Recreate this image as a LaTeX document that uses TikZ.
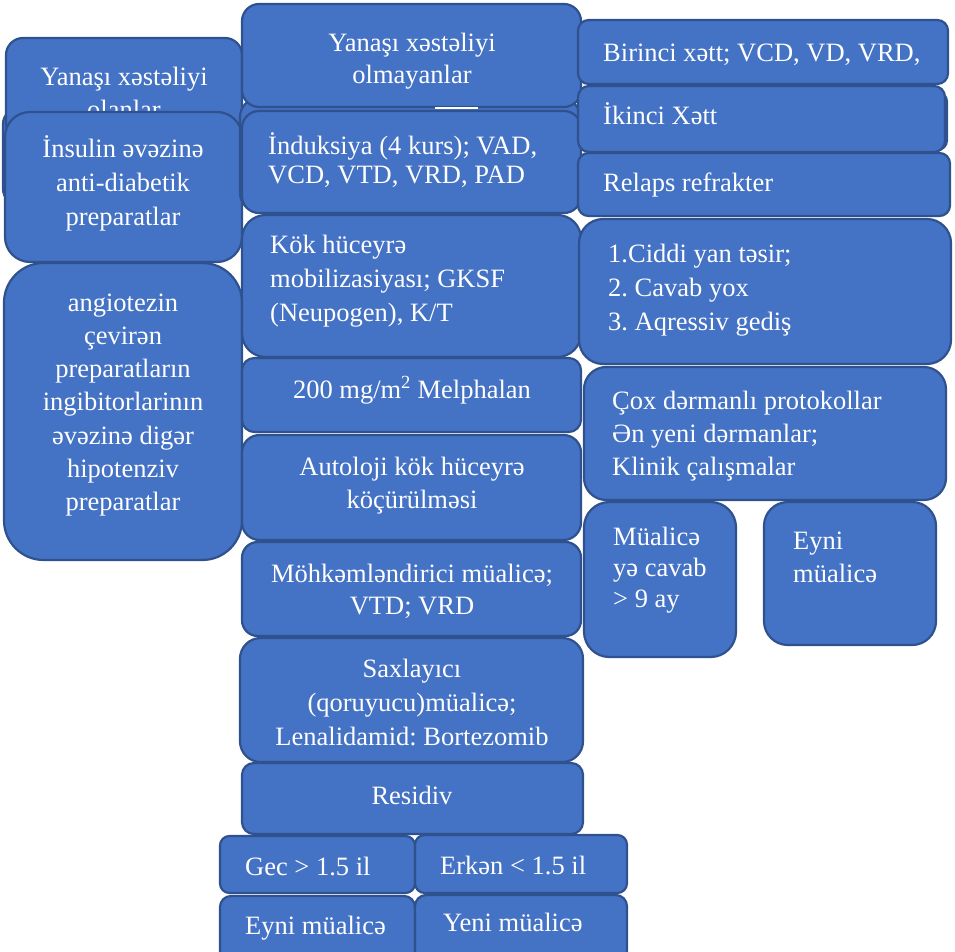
\documentclass[tikz,border=0pt]{standalone}
\usepackage{fontspec}
\setmainfont{Liberation Serif}
\usetikzlibrary{fit}
\definecolor{boxfill}{HTML}{4472C4}
\definecolor{boxedge}{HTML}{2F528F}
\newcommand{\boxtxtc}[3]{\parbox[t]{#1pt}{\fontsize{26.5}{#2}\selectfont\frenchspacing\centering #3}}
\newcommand{\boxtxtl}[3]{\parbox[t]{#1pt}{\fontsize{26.5}{#2}\selectfont\frenchspacing\raggedright #3}}
\tikzset{
  box/.style={draw=boxedge, fill=boxfill, line width=2.2pt, inner sep=0pt},
  txt/.style={text=white, inner sep=0pt},
}
% \bx{name}{x1}{y1}{x2}{y2}
\newcommand{\bx}[5]{%
  \pgfmathsetmacro{\bxw}{abs(#4-#2)}%
  \pgfmathsetmacro{\bxh}{abs(#5-#3)}%
  \pgfmathsetmacro{\bxr}{min(\bxw,\bxh)/6}%
  \node[box, rounded corners=\bxr pt, fit={(#2,#3) (#4,#5)}] (#1) {};}
\begin{document}
\begin{tikzpicture}[x=1pt,y=-1pt]
\useasboundingbox (0,0) rectangle (955,952);
\clip (0,0) rectangle (955,952);
% left column
\bx{hA}{3}{108}{240}{205}
\bx{olanlar}{6}{38}{242}{140}
\node[txt, anchor=base] (olanlar-t) at (124,86) {\boxtxtc{230}{33}{Yanaşı xəstəliyi\\olanlar}};
\bx{insulin}{5}{112}{242}{262}
\node[txt, anchor=base] (insulin-t) at (123,158) {\boxtxtc{230}{33.5}{İnsulin əvəzinə\\anti-diabetik\\preparatlar}};
\bx{angio}{4}{263}{242}{560}
\node[txt, anchor=base] (angio-t) at (123,311) {\boxtxtc{230}{33.3}{angiotezin\\çevirən\\preparatların\\ingibitorlarinın\\əvəzinə digər\\hipotenziv\\preparatlar}};
% center column
\bx{hB}{240}{98}{580}{212}
\bx{olmayan}{242}{4}{581}{107}
\node[txt, anchor=base] (olmayan-t) at (412,52) {\boxtxtc{330}{32}{Yanaşı xəstəliyi\\olmayanlar}};
\bx{indukt}{242}{111}{581}{213}
\node[txt, anchor=base west] (indukt-t) at (268,155) {\boxtxtl{310}{29}{İnduksiya (4 kurs); VAD,\\VCD, VTD, VRD, PAD}};
\bx{kok}{242}{215}{581}{357}
\node[txt, anchor=base west] (kok-t) at (270,253) {\boxtxtl{310}{34}{Kök hüceyrə\\mobilizasiyası; GKSF\\(Neupogen), K/T}};
\bx{mel}{242}{358}{581}{432}
\node[txt, anchor=base] (mel-t) at (412,398) {\boxtxtc{330}{33}{200 mg/m\textsuperscript{2} Melphalan}};
\bx{auto}{242}{435}{581}{540}
\node[txt, anchor=base] (auto-t) at (412,475) {\boxtxtc{330}{33}{Autoloji kök hüceyrə\\köçürülməsi}};
\bx{mohk}{242}{542}{581}{636}
\node[txt, anchor=base] (mohk-t) at (412,582) {\boxtxtc{330}{32}{Möhkəmləndirici müalicə;\\VTD; VRD}};
\bx{saxl}{240}{638}{583}{762}
\node[txt, anchor=base] (saxl-t) at (412,677) {\boxtxtc{335}{34}{Saxlayıcı\\(qoruyucu)müalicə;\\Lenalidamid: Bortezomib}};
\bx{resid}{242}{763}{583}{834}
\node[txt, anchor=base] (resid-t) at (412,804) {\boxtxtc{330}{33}{Residiv}};
\bx{gec}{220}{836}{415}{893}
\node[txt, anchor=base west] (gec-t) at (245,875) {\boxtxtl{170}{33}{Gec > 1.5 il}};
\bx{erken}{415}{835}{627}{893}
\node[txt, anchor=base west] (erken-t) at (440,874) {\boxtxtl{185}{33}{Erkən < 1.5 il}};
\bx{eyniA}{220}{896}{415}{962}
\node[txt, anchor=base west] (eyniA-t) at (245,934) {\boxtxtl{170}{33}{Eyni müalicə}};
\bx{yeni}{415}{895}{627}{962}
\node[txt, anchor=base west] (yeni-t) at (443,931) {\boxtxtl{180}{33}{Yeni müalicə}};
% right column
\bx{birinci}{578}{20}{948}{84}
\node[txt, anchor=base west] (birinci-t) at (603,62) {\boxtxtl{345}{33}{Birinci xətt; VCD, VD, VRD,}};
\bx{hC}{580}{92}{947}{150}
\bx{ikinci}{578}{86}{945}{152}
\node[txt, anchor=base west] (ikinci-t) at (603,125) {\boxtxtl{340}{33}{İkinci Xətt}};
\bx{relaps}{578}{153}{950}{216}
\node[txt, anchor=base west] (relaps-t) at (603,192) {\boxtxtl{340}{33}{Relaps refrakter}};
\bx{ciddi}{579}{219}{951}{364}
\node[txt, anchor=base west] (ciddi-t) at (608,262) {\boxtxtl{340}{34}{1.Ciddi yan təsir;\\2. Cavab yox\\3. Aqressiv gediş}};
\bx{cox}{584}{367}{946}{500}
\node[txt, anchor=base west] (cox-t) at (612,409) {\boxtxtl{335}{33}{Çox dərmanlı protokollar\\Ən yeni dərmanlar;\\Klinik çalışmalar}};
\bx{muali}{584}{502}{736}{657}
\node[txt, anchor=base west] (muali-t) at (613,545) {\boxtxtl{120}{31}{Müalicə\\yə cavab\\> 9 ay}};
\bx{eyniB}{764}{502}{936}{645}
\node[txt, anchor=base west] (eyniB-t) at (793,549) {\boxtxtl{140}{33}{Eyni\\müalicə}};
% white connector remnant
\coordinate (wl1) at (435,108);
\coordinate (wl2) at (478,108);
\draw[white, line width=1.2pt] (wl1) -- (wl2);
\end{tikzpicture}
\end{document}
